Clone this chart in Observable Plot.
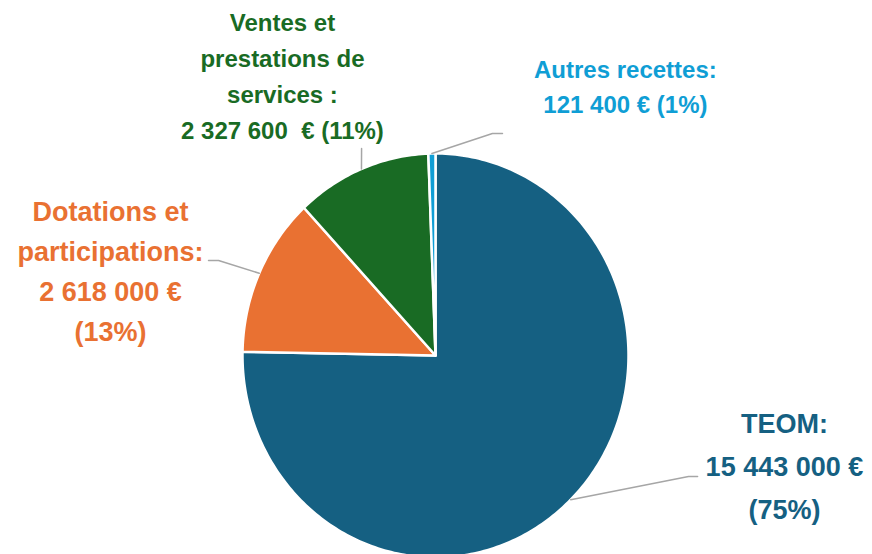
<!DOCTYPE html>
<html><head><meta charset="utf-8">
<script src="https://cdn.jsdelivr.net/npm/d3@7"></script>
<script src="https://cdn.jsdelivr.net/npm/@observablehq/plot@0.6"></script>
<style>body{margin:0;background:#fff}</style>
</head><body><div id="chart"></div>
<script>
// ---- data ----
const categories = ["TEOM", "Dotations et participations", "Ventes et prestations de services", "Autres recettes"];
const values = [15443000, 2618000, 2327600, 121400];
const percentLabels = ["(75%)", "(13%)", "(11%)", "(1%)"];
const amountLabels = ["15 443 000 €", "2 618 000 €", "2 327 600 \u00a0€", "121 400 €"];
const nameLines = [["TEOM:"], ["Dotations et", "participations:"], ["Ventes et", "prestations de", "services :"], ["Autres recettes:"]];
const colors = ["#156082", "#E97132", "#196B24", "#0F9ED5"];

// ---- layout (in pie-radius units) ----
const labelPos = [[1.808, -0.552], [-1.684, 0.413], [-0.793, 1.381], [0.984, 1.324]];
const leaderElbow = [[[1.311, -0.599], [1.358, -0.599]], [[-1.124, 0.470], [-1.176, 0.470]], [[-0.383, 1.025]], [[0.295, 1.099], [0.347, 1.099]]];
const labelFont = [27, 27, 24, 24];
const labelLineHeight = [1.6, 1.48, 1.5, 1.45];
const labelShift = [-5, -4, -3, -4];

const total = d3.sum(values);
const slices = [];
let cum = 0;
values.forEach((v, i) => {
  const a0 = cum / total, a1 = (cum + v) / total;
  cum += v;
  const n = Math.max(2, Math.ceil((a1 - a0) * 360));
  slices.push({name: categories[i], x: 0, y: 0});
  for (let k = 0; k <= n; k++) {
    const t = 2 * Math.PI * (a0 + (a1 - a0) * k / n);
    slices.push({name: categories[i], x: Math.sin(t), y: Math.cos(t)});
  }
  slices.push({name: categories[i], x: 0, y: 0});
});

let c2 = 0;
const leaders = [];
const labels = [];
values.forEach((v, i) => {
  const mid = 2 * Math.PI * (c2 + v / 2) / total;
  c2 += v;
  leaders.push({name: categories[i], x: Math.sin(mid), y: Math.cos(mid)});
  leaderElbow[i].forEach(([x, y]) => leaders.push({name: categories[i], x, y}));
  labels.push({
    name: categories[i],
    x: labelPos[i][0], y: labelPos[i][1],
    text: i === 0 || i === 1
      ? [...nameLines[i], amountLabels[i], percentLabels[i]].join("\n")
      : [...nameLines[i], amountLabels[i] + " " + percentLabels[i]].join("\n"),
    color: colors[i], size: labelFont[i], lh: labelLineHeight[i], dy: labelShift[i]
  });
});

const font = "'Liberation Sans', Arial, sans-serif";
const chart = Plot.plot({
  width: 872, height: 554,
  marginLeft: 242, marginRight: 244, marginTop: 153, marginBottom: 0,
  x: {domain: [-1, 1], axis: null},
  y: {domain: [-0.985, 1], axis: null},
  color: {domain: categories, range: colors},
  style: {background: "#fff", overflow: "visible"},
  marks: [
    Plot.line(slices, {x: "x", y: "y", z: "name", fill: "name", stroke: "white", strokeWidth: 2.5, strokeLinejoin: "round"}),
    Plot.line(leaders, {x: "x", y: "y", z: "name", stroke: "#A6A6A6", strokeWidth: 1.5}),
    ...labels.map(l => Plot.text([l], {x: "x", y: "y", text: "text", fill: l.color, fontSize: l.size, lineHeight: l.lh, fontWeight: "bold", fontFamily: font, textAnchor: "middle", lineAnchor: "middle", dy: l.dy}))
  ]
});
document.getElementById("chart").append(chart);
</script>
</body></html>
